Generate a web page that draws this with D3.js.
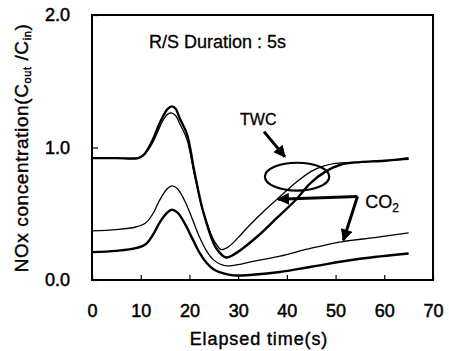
<!DOCTYPE html>
<html>
<head>
<meta charset="utf-8">
<script src="https://cdn.jsdelivr.net/npm/d3@7"></script>
<style>
  body { margin: 0; background: #fff; }
  text { font-family: "Liberation Sans", Arial, sans-serif; fill: #000; }
</style>
</head>
<body>
<div class="chart"></div>
<script>
// time (s) and NOx ratio
var twcThickT = [0, 5, 9.5, 10.5, 11.5, 12.5, 13.5, 14.5, 15.5, 16.4, 17.2, 18, 19.5, 21, 22.5, 23.6, 24.5, 25.5, 27.5, 29, 31, 34, 38, 41.7, 44.8, 48, 51, 55, 60, 65];
var twcThickV = [0.92, 0.92, 0.92, 0.94, 0.99, 1.06, 1.15, 1.23, 1.29, 1.31, 1.29, 1.22, 1.1, 0.82, 0.56, 0.42, 0.32, 0.24, 0.17, 0.19, 0.24, 0.33, 0.47, 0.6, 0.73, 0.82, 0.87, 0.89, 0.9, 0.92];

var twcThinT = [0, 5, 9.5, 10.5, 11.5, 12.5, 13.5, 14.5, 15.5, 16.4, 17.2, 18, 19.5, 21, 22.5, 23.6, 24.5, 25.5, 26.5, 28, 30, 32, 35, 38.6, 42, 45, 47.5, 50, 55, 60, 65];
var twcThinV = [0.92, 0.92, 0.92, 0.94, 0.98, 1.04, 1.12, 1.2, 1.25, 1.26, 1.24, 1.18, 1.06, 0.8, 0.56, 0.43, 0.34, 0.27, 0.23, 0.25, 0.32, 0.4, 0.51, 0.63, 0.74, 0.82, 0.86, 0.88, 0.89, 0.9, 0.91];

var co2UpperT = [0, 5, 9, 11, 12.5, 14, 15.5, 16.4, 17.5, 19, 20.5, 22, 23.5, 25, 27, 29, 33, 38.6, 45, 51.5, 58, 65];
var co2UpperV = [0.37, 0.38, 0.4, 0.43, 0.5, 0.61, 0.69, 0.71, 0.69, 0.6, 0.47, 0.33, 0.22, 0.15, 0.11, 0.11, 0.14, 0.18, 0.24, 0.29, 0.32, 0.355];

var co2LowerT = [0, 5, 9, 11, 12.5, 14, 15.5, 16.4, 17.5, 19, 20.5, 22, 23.5, 25, 27, 29, 33, 38.6, 45, 55, 65];
var co2LowerV = [0.21, 0.22, 0.24, 0.27, 0.34, 0.44, 0.51, 0.53, 0.51, 0.43, 0.32, 0.21, 0.13, 0.08, 0.05, 0.035, 0.04, 0.06, 0.1, 0.16, 0.2];

var xTicks = [0, 10, 20, 30, 40, 50, 60, 70];
var yTicks = [0, 1, 2];

var width = 449, height = 351;
var margin = {top: 15, right: 16, bottom: 71, left: 92};

var svg = d3.select('.chart')
  .append('svg')
  .attr('width', width)
  .attr('height', height);

var xScale = d3.scaleLinear()
  .domain([0, 70])
  .range([margin.left, width - margin.right]);

var yScale = d3.scaleLinear()
  .domain([0, 2])
  .range([height - margin.bottom, margin.top]);

var defs = svg.append('defs');
defs.append('marker')
  .attr('id', 'head')
  .attr('viewBox', '0 0 10 10')
  .attr('refX', 9)
  .attr('refY', 5)
  .attr('markerWidth', 4.5)
  .attr('markerHeight', 4)
  .attr('orient', 'auto')
  .append('path')
  .attr('d', 'M0,0 L10,5 L0,10 Z')
  .attr('fill', '#000');

// AXES
var xAxis = d3.axisBottom(xScale).tickValues(xTicks).tickSize(-5).tickPadding(24).tickFormat(d3.format('d'));
var yAxis = d3.axisLeft(yScale).tickValues(yTicks).tickSize(-6).tickPadding(22).tickFormat(d3.format('.1f'));

var gx = svg.append('g')
  .attr('transform', 'translate(0,' + (height - margin.bottom) + ')')
  .call(xAxis);
var gy = svg.append('g')
  .attr('transform', 'translate(' + margin.left + ',0)')
  .call(yAxis);

[gx, gy].forEach(function(g) {
  g.select('.domain').remove();
  g.selectAll('line').attr('stroke', '#000').attr('stroke-width', 1.2);
  g.selectAll('text')
    .attr('font-size', 18)
    .attr('font-family', '"Liberation Sans", Arial, sans-serif')
    .attr('fill', '#000')
    .attr('stroke', '#000')
    .attr('stroke-width', 0.5);
});

// frame
svg.append('rect')
  .attr('x', xScale(0))
  .attr('y', yScale(2))
  .attr('width', xScale(70) - xScale(0))
  .attr('height', yScale(0) - yScale(2))
  .attr('fill', 'none')
  .attr('stroke', '#000')
  .attr('stroke-width', 2);

// CURVES
var line = d3.line()
  .x(function(d) { return xScale(d[0]); })
  .y(function(d) { return yScale(d[1]); })
  .curve(d3.curveCatmullRom.alpha(0.5));

function series(ts, vs) {
  return ts.map(function(t, i) { return [t, vs[i]]; });
}

var curves = [
  {data: series(co2UpperT, co2UpperV), w: 1.3},
  {data: series(co2LowerT, co2LowerV), w: 2.4},
  {data: series(twcThinT, twcThinV), w: 1.3},
  {data: series(twcThickT, twcThickV), w: 2.4}
];

svg.selectAll('path.curve')
  .data(curves)
  .enter()
  .append('path')
  .attr('class', 'curve')
  .attr('d', function(d) { return line(d.data); })
  .attr('fill', 'none')
  .attr('stroke', '#000')
  .attr('stroke-width', function(d) { return d.w; });

// ANNOTATIONS
svg.append('text')
  .attr('x', xScale(11.7))
  .attr('y', 48)
  .attr('font-size', 18)
  .attr('stroke', '#000')
  .attr('stroke-width', 0.3)
  .text('R/S Duration : 5s');

svg.append('text')
  .attr('x', xScale(30.4))
  .attr('y', 125)
  .attr('font-size', 16)
  .attr('stroke', '#000')
  .attr('stroke-width', 0.3)
  .text('TWC');

svg.append('line')
  .attr('x1', xScale(35.3)).attr('y1', yScale(1.12))
  .attr('x2', xScale(39.6)).attr('y2', yScale(0.93))
  .attr('stroke', '#000')
  .attr('stroke-width', 3)
  .attr('marker-end', 'url(#head)');

svg.append('ellipse')
  .attr('cx', xScale(42.1))
  .attr('cy', yScale(0.78))
  .attr('rx', xScale(6.6) - xScale(0))
  .attr('ry', yScale(0) - yScale(0.105))
  .attr('fill', 'none')
  .attr('stroke', '#000')
  .attr('stroke-width', 2.2);

var co2 = svg.append('text')
  .attr('x', xScale(56.1))
  .attr('y', 208)
  .attr('font-size', 18)
  .attr('stroke', '#000')
  .attr('stroke-width', 0.3);
co2.append('tspan').text('CO');
co2.append('tspan').attr('font-size', 12).attr('dy', 4).text('2');

svg.append('path')
  .attr('d', 'M' + xScale(54.5) + ',' + yScale(0.63) +
             ' L' + xScale(38.2) + ',' + yScale(0.61))
  .attr('fill', 'none')
  .attr('stroke', '#000')
  .attr('stroke-width', 3)
  .attr('marker-end', 'url(#head)');

svg.append('path')
  .attr('d', 'M' + xScale(54.5) + ',' + yScale(0.63) +
             ' L' + xScale(51.6) + ',' + yScale(0.3))
  .attr('fill', 'none')
  .attr('stroke', '#000')
  .attr('stroke-width', 3)
  .attr('marker-end', 'url(#head)');

// axis titles
svg.append('text')
  .attr('x', 259)
  .attr('y', 345)
  .attr('text-anchor', 'middle')
  .attr('font-size', 18)
  .attr('letter-spacing', 0.9)
  .attr('stroke', '#000')
  .attr('stroke-width', 0.4)
  .text('Elapsed time(s)');

var yt = svg.append('text')
  .attr('transform', 'translate(28,148) rotate(-90)')
  .attr('text-anchor', 'middle')
  .attr('font-size', 19)
  .attr('letter-spacing', 0.6)
  .attr('stroke', '#000')
  .attr('stroke-width', 0.4);
yt.append('tspan').text('NOx concentration(C');
yt.append('tspan').attr('font-size', 11).attr('dy', 3).text('out');
yt.append('tspan').attr('dy', -3).text(' /C');
yt.append('tspan').attr('font-size', 11).attr('dy', 3).text('in');
yt.append('tspan').attr('dy', -3).text(')');
</script>
</body>
</html>
